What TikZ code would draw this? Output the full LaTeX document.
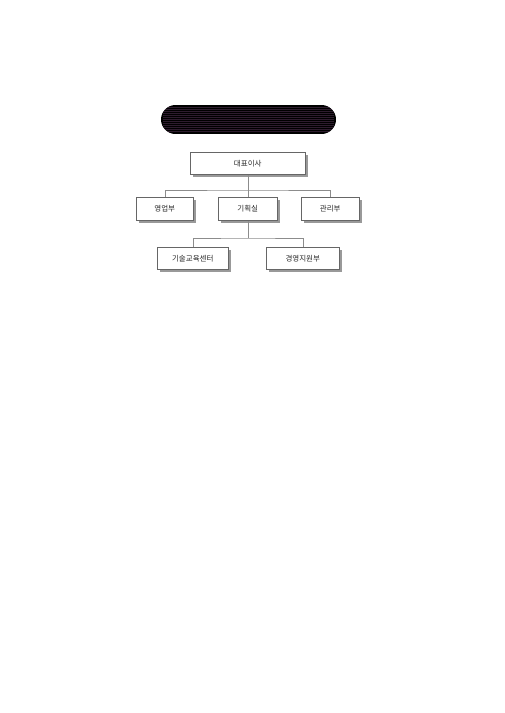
\documentclass[tikz,border=0pt]{standalone}
\usepackage{fontspec}
\newfontfamily\kr{Noto Sans CJK KR}
\begin{document}
\begin{tikzpicture}[x=1pt,y=-1pt,
  box/.style={draw=black!60, fill=white, line width=0.5pt, font=\kr\fontsize{7.5}{9}\selectfont, text=black!85, inner sep=0pt, anchor=north west},
  conn/.style={draw=black!45, line width=0.5pt}]
\useasboundingbox (0,0) rectangle (504,713);
% pill
\begin{scope}
\clip[rounded corners=14.5pt] (161,105) rectangle (336,134);
\fill[black] (161,105) rectangle (336,134);
\foreach \yy in {107.5,109.5,...,132.5} {
  \draw[violet!40!black!75!white, opacity=0.45, line width=0.5pt, dash pattern=on 1.5pt off 0.5pt] (163,\yy) -- (334,\yy);
}
\end{scope}
% shadows
\foreach \a/\b/\c/\d in {190/152/305/174, 136/197/193/220, 218/197/277/220, 301/197/359/220, 157/247/228/269, 266/247/339/269} {
  \fill[black!40] (\a+3,\b+3) rectangle (\c+3,\d+3);
}
\node[box, minimum width=115pt, minimum height=22pt] (ceo) at (190,152) {대표이사};
\node[box, minimum width=57pt, minimum height=23pt] (sales) at (136,197) {영업부};
\node[box, minimum width=59pt, minimum height=23pt] (plan) at (218,197) {기획실};
\node[box, minimum width=58pt, minimum height=23pt] (admin) at (301,197) {관리부};
\node[box, minimum width=71pt, minimum height=22pt] (edu) at (157,247) {기술교육센터};
\node[box, minimum width=73pt, minimum height=22pt] (mgmt) at (266,247) {경영지원부};
\coordinate (j1) at (ceo.south |- 0,190);
\coordinate (j2) at (plan.south |- 0,238);
\draw[conn] (ceo.south) -- (j1);
\draw[conn] (sales.north) |- (j1) -| (admin.north);
\draw[conn] (j1) -- (plan.north);
\draw[conn] (plan.south) -- (j2);
\draw[conn] (edu.north) |- (j2) -| (mgmt.north);
\end{tikzpicture}
\end{document}
